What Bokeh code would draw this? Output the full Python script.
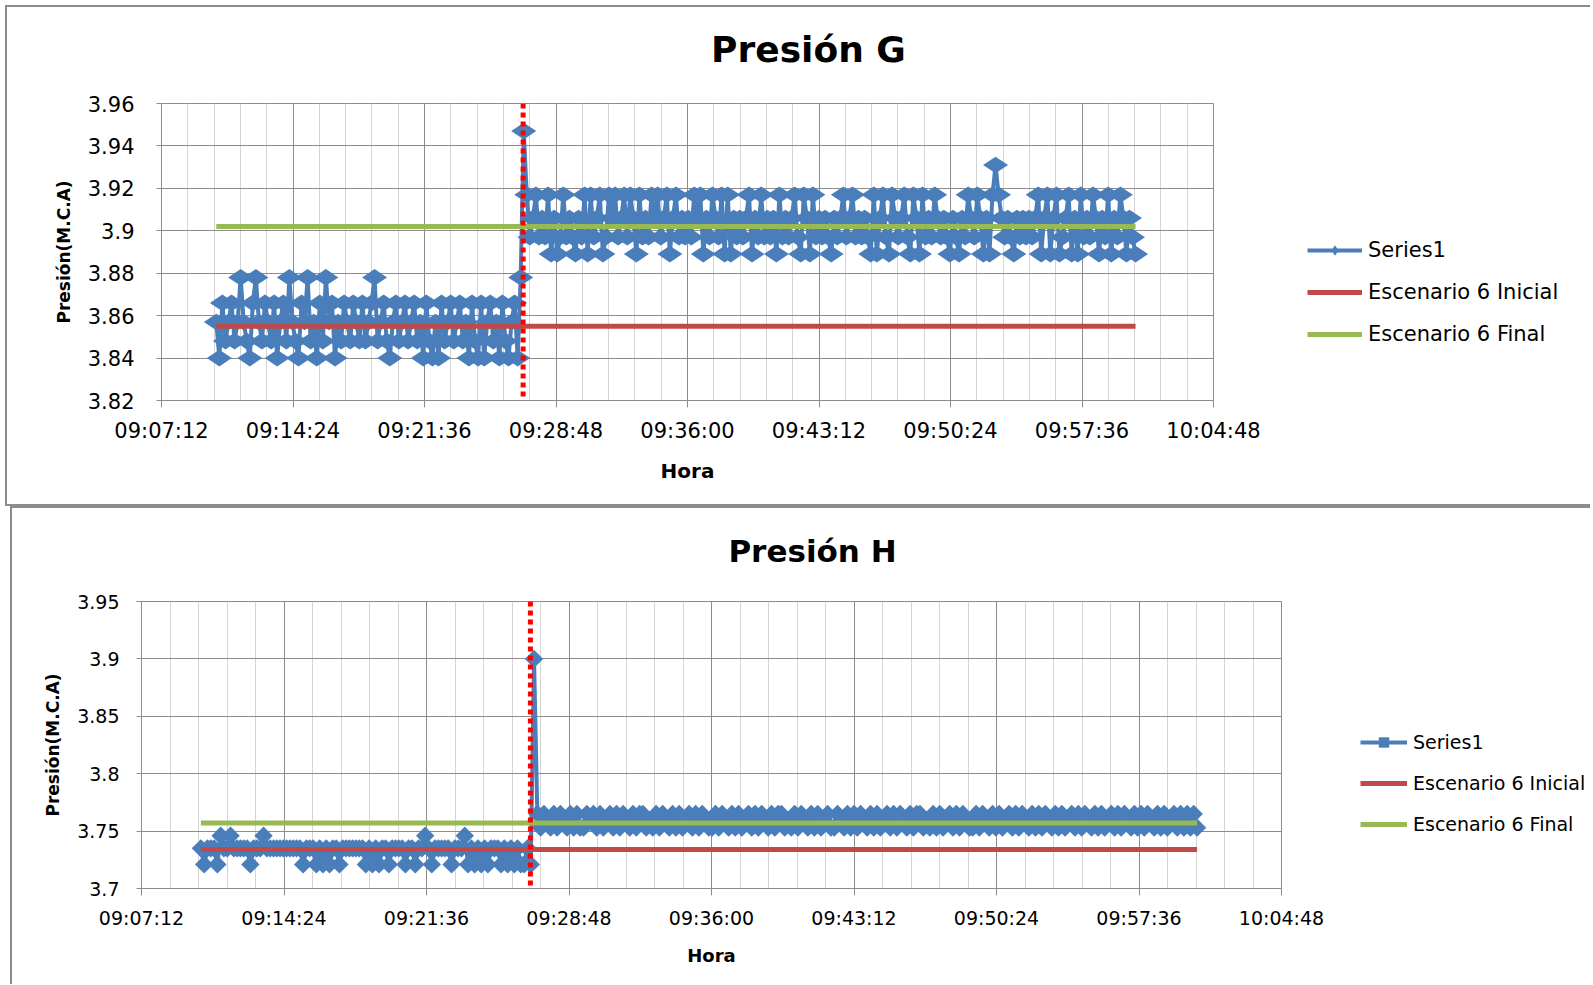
import math
from bokeh.plotting import figure
from bokeh.layouts import column, row
from bokeh.models import FixedTicker, Span, Legend, LegendItem, Range1d
from bokeh.core.properties import value
from bokeh.embed import file_html
from bokeh.resources import INLINE

# ---------------- data ----------------
sample_start = "09:10:12"
sample_step_s = 10
g_change_time = "09:27:00"
h_change_time = "09:26:51"

x_tick_labels = ["09:07:12", "09:14:24", "09:21:36", "09:28:48", "09:36:00",
                 "09:43:12", "09:50:24", "09:57:36", "10:04:48"]
g_y_tick_labels = ["3.82", "3.84", "3.86", "3.88", "3.9", "3.92", "3.94", "3.96"]
h_y_tick_labels = ["3.7", "3.75", "3.8", "3.85", "3.9", "3.95"]

legend_labels = ["Series1", "Escenario 6 Inicial", "Escenario 6 Final"]

g_before = [
    3.857, 3.840, 3.866, 3.848, 3.857, 3.866, 3.848, 3.857, 3.878, 3.857,
    3.848, 3.840, 3.866, 3.878, 3.857, 3.848, 3.866, 3.857, 3.848, 3.866,
    3.840, 3.857, 3.866, 3.848, 3.878, 3.857, 3.848, 3.840, 3.866, 3.857,
    3.878, 3.848, 3.857, 3.840, 3.866, 3.848, 3.878, 3.857, 3.866, 3.840,
    3.857, 3.848, 3.866, 3.857, 3.848, 3.866, 3.857, 3.848, 3.866, 3.848,
    3.857, 3.866, 3.878, 3.848, 3.857, 3.866, 3.848, 3.840, 3.857, 3.866,
    3.848, 3.857, 3.866, 3.848, 3.857, 3.866, 3.848, 3.857, 3.840, 3.866,
    3.848, 3.840, 3.857, 3.840, 3.866, 3.848, 3.857, 3.866, 3.848, 3.857,
    3.866, 3.848, 3.857, 3.840, 3.866, 3.848, 3.840, 3.866, 3.840, 3.857,
    3.866, 3.848, 3.857, 3.840, 3.866, 3.848, 3.840, 3.857, 3.866, 3.840,
]
g_after = [
    3.878, 3.947, 3.917, 3.897, 3.906, 3.917, 3.897, 3.906, 3.897, 3.917,
    3.889, 3.906, 3.889, 3.897, 3.917, 3.897, 3.906, 3.897, 3.889, 3.906,
    3.897, 3.917, 3.889, 3.917, 3.897, 3.906, 3.917, 3.889, 3.897, 3.917,
    3.906, 3.917, 3.897, 3.906, 3.917, 3.897, 3.917, 3.906, 3.889, 3.917,
    3.897, 3.906, 3.897, 3.917, 3.906, 3.917, 3.897, 3.906, 3.917, 3.889,
    3.906, 3.917, 3.897, 3.906, 3.897, 3.906, 3.897, 3.917, 3.906, 3.917,
    3.889, 3.906, 3.897, 3.917, 3.906, 3.897, 3.917, 3.889, 3.917, 3.889,
    3.906, 3.897, 3.906, 3.897, 3.906, 3.917, 3.889, 3.906, 3.897, 3.917,
    3.897, 3.906, 3.897, 3.906, 3.889, 3.917, 3.897, 3.906, 3.897, 3.906,
    3.917, 3.897, 3.889, 3.917, 3.906, 3.889, 3.917, 3.897, 3.906, 3.897,
    3.906, 3.897, 3.889, 3.906, 3.897, 3.906, 3.917, 3.897, 3.906, 3.917,
    3.897, 3.906, 3.897, 3.906, 3.897, 3.889, 3.917, 3.889, 3.906, 3.917,
    3.897, 3.889, 3.917, 3.906, 3.897, 3.906, 3.917, 3.897, 3.889, 3.917,
    3.906, 3.889, 3.917, 3.897, 3.906, 3.897, 3.917, 3.906, 3.897, 3.906,
    3.897, 3.889, 3.906, 3.897, 3.889, 3.906, 3.897, 3.917, 3.906, 3.897,
    3.917, 3.906, 3.889, 3.906, 3.889, 3.917, 3.931, 3.917, 3.906, 3.897,
    3.906, 3.897, 3.889, 3.906, 3.897, 3.906, 3.897, 3.906, 3.897, 3.906,
    3.917, 3.889, 3.906, 3.917, 3.889, 3.906, 3.917, 3.889, 3.897, 3.906,
    3.917, 3.889, 3.906, 3.889, 3.917, 3.897, 3.906, 3.897, 3.917, 3.906,
    3.889, 3.906, 3.897, 3.917, 3.889, 3.906, 3.897, 3.917, 3.906, 3.889,
    3.906, 3.897, 3.889,
]
g_inicial = 3.855
g_final = 3.902

h_before = [
    3.735, 3.721, 3.735, 3.735, 3.735, 3.721, 3.746, 3.735, 3.735, 3.746,
    3.735, 3.735, 3.735, 3.735, 3.735, 3.721, 3.735, 3.735, 3.735, 3.746,
    3.735, 3.735, 3.735, 3.735, 3.735, 3.735, 3.735, 3.735, 3.735, 3.735,
    3.735, 3.721, 3.735, 3.735, 3.735, 3.721, 3.735, 3.721, 3.735, 3.721,
    3.735, 3.735, 3.721, 3.735, 3.735, 3.735, 3.735, 3.735, 3.735, 3.735,
    3.721, 3.735, 3.721, 3.735, 3.721, 3.735, 3.735, 3.721, 3.735, 3.735,
    3.735, 3.735, 3.721, 3.735, 3.735, 3.721, 3.735, 3.735, 3.746, 3.735,
    3.721, 3.735, 3.735, 3.735, 3.735, 3.735, 3.721, 3.735, 3.735, 3.735,
    3.746, 3.721, 3.735, 3.721, 3.735, 3.721, 3.735, 3.721, 3.735, 3.735,
    3.735, 3.721, 3.735, 3.721, 3.735, 3.721, 3.735, 3.721, 3.721, 3.735,
]
h_after = [
    3.721, 3.900, 3.765, 3.753, 3.765, 3.759, 3.753, 3.765, 3.753, 3.765,
    3.759, 3.753, 3.765, 3.753, 3.765, 3.753, 3.753, 3.765, 3.759, 3.765,
    3.753, 3.765, 3.753, 3.759, 3.765, 3.753, 3.765, 3.753, 3.765, 3.759,
    3.753, 3.765, 3.753, 3.765, 3.765, 3.753, 3.759, 3.753, 3.765, 3.753,
    3.765, 3.759, 3.753, 3.765, 3.753, 3.765, 3.753, 3.759, 3.765, 3.753,
    3.765, 3.753, 3.765, 3.759, 3.753, 3.753, 3.765, 3.753, 3.765, 3.759,
    3.753, 3.765, 3.753, 3.765, 3.753, 3.759, 3.765, 3.753, 3.765, 3.753,
    3.765, 3.759, 3.753, 3.765, 3.753, 3.765, 3.765, 3.753, 3.759, 3.753,
    3.765, 3.753, 3.765, 3.759, 3.753, 3.765, 3.753, 3.765, 3.753, 3.759,
    3.765, 3.753, 3.753, 3.765, 3.759, 3.753, 3.765, 3.753, 3.765, 3.753,
    3.765, 3.759, 3.753, 3.765, 3.753, 3.765, 3.753, 3.759, 3.765, 3.753,
    3.765, 3.753, 3.765, 3.759, 3.753, 3.765, 3.753, 3.765, 3.765, 3.753,
    3.759, 3.753, 3.765, 3.753, 3.765, 3.753, 3.759, 3.765, 3.753, 3.765,
    3.753, 3.765, 3.759, 3.753, 3.753, 3.765, 3.753, 3.765, 3.759, 3.753,
    3.765, 3.753, 3.765, 3.753, 3.759, 3.765, 3.753, 3.765, 3.753, 3.765,
    3.759, 3.753, 3.765, 3.753, 3.765, 3.753, 3.765, 3.759, 3.753, 3.765,
    3.753, 3.765, 3.753, 3.759, 3.765, 3.753, 3.765, 3.753, 3.765, 3.759,
    3.753, 3.765, 3.753, 3.765, 3.753, 3.759, 3.765, 3.753, 3.765, 3.753,
    3.765, 3.759, 3.753, 3.765, 3.753, 3.765, 3.753, 3.765, 3.759, 3.753,
    3.765, 3.753, 3.765, 3.753, 3.759, 3.765, 3.753, 3.765, 3.753, 3.765,
    3.753, 3.765, 3.753,
]
h_inicial = 3.734
h_final = 3.757

# ---------------- styling ----------------
BLUE = "#4a7ebb"
RED = "#be4b48"
GREEN = "#98b954"
GRID = "#8c8c8c"
MINOR = "#d4d4d4"
BOX = "#8c8c8c"
FONT = "DejaVu Sans"


def secs(s):
    h, m, sec = (int(v) for v in s.split(":"))
    return h * 3600 + m * 60 + sec


def sample_times(values):
    t0 = secs(sample_start)
    return [t0 + i * sample_step_s for i in range(len(values))]


def series_style(geo):
    return dict(
        line=dict(line_color=BLUE, line_width=4),
        pts=dict(marker=geo["mk"], size=geo["ms"], angle=geo["ang"],
                 fill_color=BLUE, line_color=None),
        ini=dict(line_color=RED, line_width=5),
        fin=dict(line_color=GREEN, line_width=5),
    )


def blank(width, height):
    q = figure(width=width, height=height, output_backend="svg",
               toolbar_location=None, frame_align=False,
               x_range=Range1d(0, 1), y_range=Range1d(0, 1),
               x_axis_location=None, y_axis_location=None,
               min_border_left=0, min_border_right=0,
               min_border_top=0, min_border_bottom=0)
    q.grid.visible = False
    q.outline_line_color = None
    q.background_fill_color = "white"
    q.border_fill_color = "white"
    return q


def build_title(text, geo):
    # canvas spans the block width; text centred where the chart title sits
    w, hgt = geo["tw"], geo["th"]
    q = blank(w, hgt)
    q.x_range = Range1d(0, w)
    q.y_range = Range1d(hgt, 0)
    q.text(x=[geo["tcx"]], y=[geo["tcy"]], text=[text], text_align="center",
           text_baseline="middle", text_font=value(FONT), text_font_style="bold",
           text_font_size=geo["title_fs"], text_color="black")
    return q


def build(values, y_labels, ini, fin, change, geo):
    t = sample_times(values)
    xt = [secs(s) for s in x_tick_labels]
    yt = [float(s) for s in y_labels]
    minor = []
    for a, b in zip(xt[:-1], xt[1:]):
        for k in range(1, 5):
            minor.append(a + (b - a) * k / 5.0)

    p = figure(width=geo["w"], height=geo["h"], output_backend="svg",
               toolbar_location=None, frame_align=False,
               x_range=Range1d(xt[0], xt[-1]), y_range=Range1d(yt[0], yt[-1]),
               min_border_left=geo["ml"], min_border_right=geo["mr"],
               min_border_top=geo["mt"], min_border_bottom=geo["mb"])
    p.background_fill_color = "white"
    p.border_fill_color = "white"
    p.outline_line_color = GRID
    p.outline_line_width = 1

    xtick = FixedTicker(ticks=xt, minor_ticks=minor)
    ytick = FixedTicker(ticks=yt)
    p.xaxis.ticker = xtick
    p.xgrid.ticker = xtick
    p.yaxis.ticker = ytick
    p.ygrid.ticker = ytick
    p.xaxis.major_label_overrides = {v: s for v, s in zip(xt, x_tick_labels)}
    p.yaxis.major_label_overrides = {v: s for v, s in zip(yt, y_labels)}

    p.xgrid.grid_line_color = GRID
    p.xgrid.minor_grid_line_color = MINOR
    p.ygrid.grid_line_color = GRID

    for ax in (p.xaxis, p.yaxis):
        ax.axis_line_color = GRID
        ax.major_tick_line_color = GRID
        ax.minor_tick_line_color = None
        ax.major_tick_in = 0
        ax.major_label_text_font = FONT
        ax.major_label_text_font_size = geo["tick_fs"]
        ax.major_label_text_color = "black"
        ax.axis_label_text_font = FONT
        ax.axis_label_text_font_style = "bold"
        ax.axis_label_text_color = "black"
    p.xaxis.major_tick_out = 7
    p.yaxis.major_tick_out = 5
    p.xaxis.major_label_standoff = geo["xls"]
    p.yaxis.major_label_standoff = geo["yls"]
    p.xaxis.axis_label = "Hora"
    p.xaxis.axis_label_text_font_size = geo["hora_fs"]
    p.xaxis.axis_label_standoff = 13
    p.yaxis.axis_label = "Presión(M.C.A)"
    p.yaxis.axis_label_text_font_size = geo["ylab_fs"]
    p.yaxis.axis_label_standoff = 11

    st = series_style(geo)
    p.line(t, values, **st["line"])
    p.scatter(t, values, **st["pts"])
    p.line([t[0], t[-1]], [ini, ini], **st["ini"])
    p.line([t[0], t[-1]], [fin, fin], **st["fin"])
    p.add_layout(Span(location=secs(change), dimension="height",
                      line_color="#ff0000", line_width=5, line_dash="5 4"))
    return p


def build_legend(values, ini, fin, geo):
    # legend panel beside the plot area; its proxy renderers use the same
    # series but lie outside this panel's own (0..1) ranges, so only the
    # legend swatches show
    t = sample_times(values)
    q = blank(geo["lw"], geo["h"])
    st = series_style(geo)
    r_line = q.line(t, values, **st["line"])
    r_pts = q.scatter(t, values, **st["pts"])
    r_ini = q.line([t[0], t[-1]], [ini, ini], **st["ini"])
    r_fin = q.line([t[0], t[-1]], [fin, fin], **st["fin"])
    legend = Legend(items=[
        LegendItem(label=legend_labels[0], renderers=[r_line, r_pts]),
        LegendItem(label=legend_labels[1], renderers=[r_ini]),
        LegendItem(label=legend_labels[2], renderers=[r_fin]),
    ], location=(geo["lx"], geo["ly"]))
    legend.label_text_font = FONT
    legend.label_text_font_size = geo["leg_fs"]
    legend.label_text_color = "black"
    legend.glyph_width = geo["gw"]
    legend.glyph_height = 26
    legend.label_height = 26
    legend.spacing = geo["sp"]
    legend.padding = 0
    legend.margin = 0
    legend.label_standoff = 6
    legend.border_line_color = None
    legend.background_fill_alpha = 0
    q.add_layout(legend)
    return q


g_geo = dict(tw=1585, th=75, tcx=801, tcy=42, title_fs="36px",
             w=1285, h=426, ml=154, mr=79, mt=23, mb=106, tick_fs="21px",
             xls=11, yls=22, hora_fs="20px", ylab_fs="17px",
             mk="diamond", ms=25, ang=math.pi / 2,
             lw=300, lx=17, ly=159, leg_fs="21px", gw=55, sp=16)
h_geo = dict(tw=1580, th=75, tcx=800, tcy=42, title_fs="31px",
             w=1340, h=403, ml=129, mr=71, mt=20, mb=96, tick_fs="19px",
             xls=11, yls=17, hora_fs="18px", ylab_fs="17px",
             mk="square", ms=13, ang=math.pi / 4,
             lw=240, lx=10, ly=147, leg_fs="19px", gw=47, sp=15)

b = "2px solid " + BOX

gt = build_title("Presión G", g_geo)
gt.margin = (5, 0, 0, 5)
gt.styles = {"border-left": b, "border-top": b}
g = build(g_before + g_after, g_y_tick_labels, g_inicial, g_final, g_change_time, g_geo)
g.margin = (0, 0, 0, 5)
g.styles = {"border-left": b, "border-bottom": b}
gl = build_legend(g_before + g_after, g_inicial, g_final, g_geo)
gl.styles = {"border-bottom": b}

ht = build_title("Presión H", h_geo)
ht.margin = (0, 0, 0, 10)
ht.styles = {"border-left": b, "border-top": b}
h = build(h_before + h_after, h_y_tick_labels, h_inicial, h_final, h_change_time, h_geo)
h.margin = (0, 0, 0, 10)
h.styles = {"border-left": b}
hl = build_legend(h_before + h_after, h_inicial, h_final, h_geo)

layout = column(gt, row(g, gl, spacing=0), ht, row(h, hl, spacing=0), spacing=0)
open("out.html", "w").write(file_html(layout, INLINE))
